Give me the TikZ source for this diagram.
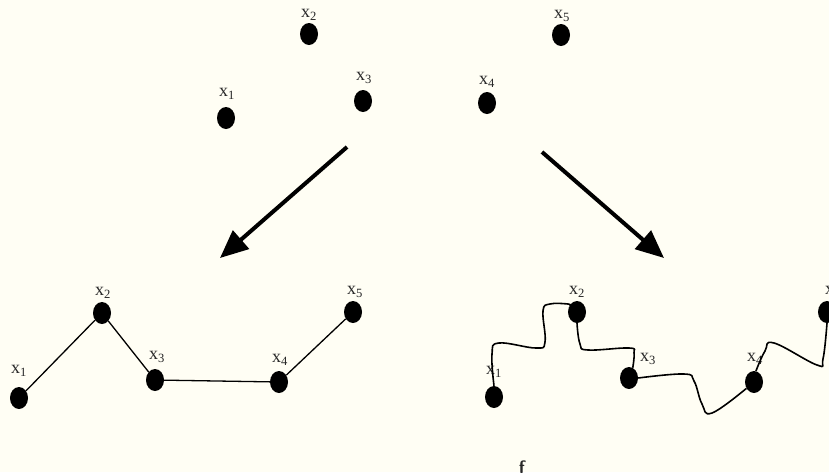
\documentclass[tikz,border=0pt]{standalone}
\usepackage{fontspec}
\setmainfont{Liberation Serif}
\usetikzlibrary{arrows.meta,shapes.geometric}
\definecolor{bg}{RGB}{255,254,244}
\definecolor{lab}{RGB}{40,40,40}
\newcommand{\xlab}[1]{x\textsubscript{#1}}
\begin{document}
\begin{tikzpicture}[x=1pt,y=-1pt,
  dot/.style={ellipse,fill=black,draw=none,minimum width=18pt,minimum height=22pt,inner sep=0pt},
  lbl/.style={text=lab,font=\fontsize{18}{20}\selectfont,inner sep=0pt},
  edge/.style={line width=1.3pt},
  wavy/.style={line width=1.6pt,line join=round},
  bigarrow/.style={line width=4pt,-{Triangle[length=28pt,width=24pt]}}]
\useasboundingbox (0,0) rectangle (829,472);
\fill[bg] (0,0) rectangle (829,472);

% top row of points
\node[dot] (t1) at (226,118) {};
\node[dot] (t2) at (309,34) {};
\node[dot] (t3) at (363,101) {};
\node[dot] (t4) at (487,103) {};
\node[dot] (t5) at (561,35) {};
\node[lbl] (lt1) at (227,94) {\xlab{1}};
\node[lbl] (lt2) at (309,15) {\xlab{2}};
\node[lbl] (lt3) at (364,78) {\xlab{3}};
\node[lbl] (lt4) at (487,82) {\xlab{4}};
\node[lbl] (lt5) at (562,16) {\xlab{5}};

% arrows
\coordinate (la1) at (347,147);
\coordinate (la2) at (220,258);
\coordinate (ra1) at (542,152);
\coordinate (ra2) at (664,258);
\draw[bigarrow] (la1) -- (la2);
\draw[bigarrow] (ra1) -- (ra2);

% bottom left: straight path
\node[dot] (a1) at (19,398) {};
\node[dot] (a2) at (102,313) {};
\node[dot] (a3) at (155,380) {};
\node[dot] (a4) at (279,382) {};
\node[dot] (a5) at (353,312) {};
\node[lbl] (la1t) at (19,371) {\xlab{1}};
\node[lbl] (la2t) at (103,293) {\xlab{2}};
\node[lbl] (la3t) at (157,357) {\xlab{3}};
\node[lbl] (la4t) at (280,360) {\xlab{4}};
\node[lbl] (la5t) at (355,292) {\xlab{5}};
\draw[edge] (a1) -- (a2) -- (a3) -- (a4) -- (a5);

% bottom right: wavy path
\node[dot] (b1) at (494,397) {};
\node[dot] (b2) at (577,312) {};
\node[dot] (b3) at (629,378) {};
\node[dot] (b4) at (754,382) {};
\node[dot] (b5) at (827,312) {};
\node[lbl] (lb1t) at (494,372) {\xlab{1}};
\node[lbl] (lb2t) at (577,292) {\xlab{2}};
\node[lbl] (lb3t) at (648,359) {\xlab{3}};
\node[lbl] (lb4t) at (755,359) {\xlab{4}};
\node[lbl] (lb5t) at (833,292) {\xlab{5}};
\draw[wavy] plot[smooth,tension=0.7] coordinates {(b1.north) (492,354) (499,343) (536,348) (545,342) (543,311) (550,304) (568,304) (b2.140)};
\draw[wavy] plot[smooth,tension=0.7] coordinates {(b2.south) (580,344) (588,350) (629,348) (634,353) (b3.70)};
\draw[wavy] plot[smooth,tension=0.7] coordinates {(b3.east) (684,374) (694,381) (702,404) (712,413) (b4.220)};
\draw[wavy] plot[smooth,tension=0.7] coordinates {(b4.80) (765,351) (774,343) (817,365) (823,359) (b5.south)};

\node[text=lab,font=\sffamily\bfseries\fontsize{18}{20}\selectfont,inner sep=0pt] (fnote) at (522,467) {f};
\end{tikzpicture}
\end{document}
